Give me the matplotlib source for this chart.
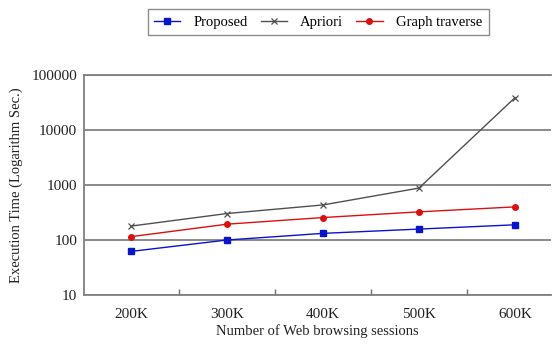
import matplotlib
matplotlib.use("Agg")
import matplotlib.pyplot as plt
from matplotlib.ticker import FixedLocator, NullFormatter

categories = ["200K", "300K", "400K", "500K", "600K"]
proposed = [62, 100, 132, 158, 189]
apriori = [179, 303, 434, 880, 38800]
graph_traverse = [115, 194, 256, 325, 400]
y_ticks = [10, 100, 1000, 10000, 100000]
y_tick_labels = ["10", "100", "1000", "10000", "100000"]

plt.rcParams['font.family'] = ['Liberation Serif', 'DejaVu Serif']

fig = plt.figure(figsize=(5.52, 3.47), dpi=100)
ax = fig.add_axes([84/552, 1-295/347, 467/552, 220/347])

x = list(range(len(categories)))
l1, = ax.plot(x, proposed, color="#0a14c8", marker="s", markersize=4, lw=1.0, label="Proposed")
l2, = ax.plot(x, apriori, color="#505050", marker="x", markersize=5, mew=0.9, lw=1.0, label="Apriori")
l3, = ax.plot(x, graph_traverse, color="#d81010", marker="o", markersize=4, lw=1.0, label="Graph traverse")

ax.set_yscale("log")
ax.set_ylim(10, 100000)
ax.set_yticks(y_ticks)
ax.set_yticklabels(y_tick_labels)
ax.yaxis.set_minor_locator(FixedLocator([]))
ax.yaxis.set_minor_formatter(NullFormatter())
ax.tick_params(axis="y", length=0, pad=5, labelsize=11, colors="#222222")

ax.set_xlim(-0.49, 4.375)
ax.set_xticks(x)
ax.set_xticklabels(categories)
ax.xaxis.set_minor_locator(FixedLocator([0.5, 1.5, 2.5, 3.5]))
ax.tick_params(axis="x", which="major", length=0, pad=9, labelsize=11, colors="#222222")
ax.tick_params(axis="x", which="minor", direction="in", length=4, width=1, color="#707070")

ax.grid(axis="y", which="major", color="#808080", lw=1.3)
ax.set_axisbelow(True)
ax.spines["right"].set_visible(False)
for side in ["left", "bottom", "top"]:
    ax.spines[side].set_color("#808080")
    ax.spines[side].set_linewidth(1.3)

ax.set_xlabel("Number of Web browsing sessions", fontsize=10.5, color="#222222", labelpad=3)
ax.set_ylabel("Execution Time (Logarithm Sec.)", fontsize=10.5, color="#222222", labelpad=6)

leg = fig.legend(handles=[l1, l2, l3], loc="center", ncol=3,
                 bbox_to_anchor=(318/552, 1-22/347), fontsize=10.5, frameon=True,
                 fancybox=False, edgecolor="#707070", handlelength=1.8,
                 columnspacing=0.9, handletextpad=0.9, borderpad=0.45)
leg.get_frame().set_linewidth(1.0)

fig.savefig("out.png", dpi=100)
